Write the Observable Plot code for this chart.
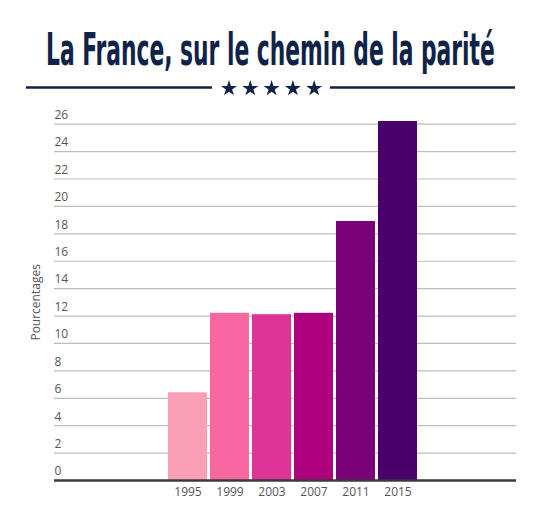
<!DOCTYPE html>
<html>
<head>
<meta charset="utf-8">
<script src="https://cdn.jsdelivr.net/npm/d3@7"></script>
<script src="https://cdn.jsdelivr.net/npm/@observablehq/plot@0.6"></script>
<style>
  body { margin: 0; background: #fff; }
  #header, #chart svg { display: block; }
</style>
</head>
<body>
<svg id="header" width="541" height="100"></svg>
<div id="chart"></div>
<script>
const titre = "La France, sur le chemin de la parité"
const axeY = "Pourcentages"
const annees = ["1995", "1999", "2003", "2007", "2011", "2015"]
const pourcentages = [6.4, 12.2, 12.1, 12.2, 18.9, 26.2]
const graduations = [0, 2, 4, 6, 8, 10, 12, 14, 16, 18, 20, 22, 24, 26]
const etoiles = [0, 1, 2, 3, 4]

const data = annees.map((a, i) => ({annee: a, valeur: pourcentages[i]}))

// entête : titre + filets + étoiles
const navy = "#0f2248"
const header = d3.select("#header")
const t = header.append("text")
  .attr("x", 0).attr("y", 65)
  .attr("font-family", "DejaVu Sans Condensed, Liberation Sans Narrow, sans-serif")
  .attr("font-weight", "bold")
  .attr("font-size", 45)
  .attr("fill", navy)
  .text(titre)
// on comprime le titre pour imiter la police très étroite de l'original
const w = t.node().getComputedTextLength()
t.attr("transform", `translate(46,0) scale(${449 / w},1)`)

header.append("line").attr("x1", 26).attr("x2", 212).attr("y1", 87.5).attr("y2", 87.5)
  .attr("stroke", navy).attr("stroke-width", 2.5)
header.append("line").attr("x1", 330).attr("x2", 515).attr("y1", 87.5).attr("y2", 87.5)
  .attr("stroke", navy).attr("stroke-width", 2.5)
header.selectAll("path.etoile").data(etoiles).join("path")
  .attr("class", "etoile")
  .attr("d", d3.symbol(d3.symbolStar, 80))
  .attr("transform", i => `translate(${229 + i * 21.3},88.5)`)
  .attr("fill", navy)

const chart = Plot.plot({
  width: 541,
  height: 427,
  marginLeft: 54,
  marginRight: 25,
  marginTop: 23.7,
  marginBottom: 47,
  style: {fontFamily: "Open Sans, sans-serif", fontSize: "12px", color: "#555"},
  x: {domain: annees, range: [161.5, 422.5], padding: 0.08},
  y: {domain: [0, 26]},
  color: {domain: annees, range: d3.schemeRdPu[9].slice(3)},
  marks: [
    Plot.ruleY(graduations.filter(d => d > 0), {stroke: "#bdbdbd", strokeWidth: 1.2}),
    Plot.barY(data, {x: "annee", y: "valeur", fill: "annee"}),
    Plot.ruleY([0], {stroke: "#3a3a3a", strokeWidth: 2.5}),
    Plot.axisY({
      ticks: graduations, tickSize: 0, tickPadding: 0, textAnchor: "start", dy: -9,
      label: axeY, labelAnchor: "center", labelArrow: "none", labelOffset: 23
    }),
    Plot.axisX({tickSize: 0, tickPadding: 7, label: null})
  ]
})

d3.select("#chart").append(() => chart)
</script>
</body>
</html>
